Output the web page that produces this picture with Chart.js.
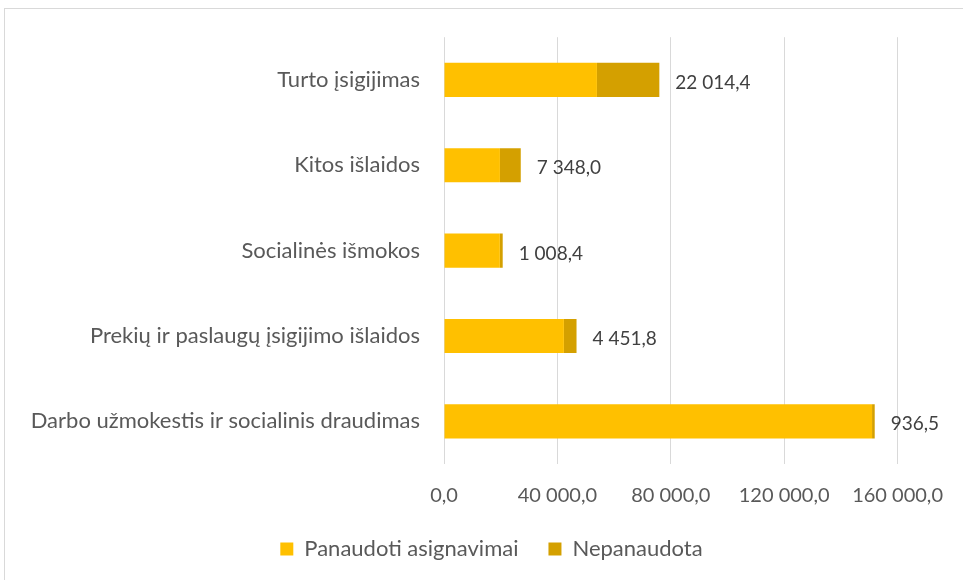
<!DOCTYPE html>
<html>
<head>
<meta charset="utf-8">
<script src="https://cdn.jsdelivr.net/npm/chart.js@4/dist/chart.umd.min.js"></script>
<style>
  html, body { margin: 0; padding: 0; background: #fff; }
  canvas { display: block; }
</style>
</head>
<body>
<canvas id="chart1" width="963" height="580"></canvas>
<script>
const categories = ["Turto įsigijimas", "Kitos išlaidos", "Socialinės išmokos", "Prekių ir paslaugų įsigijimo išlaidos", "Darbo užmokestis ir socialinis draudimas"];
const panaudoti = [53950, 19730, 19700, 42300, 151000];
const nepanaudota = [22014.4, 7348.0, 1008.4, 4451.8, 936.5];
const xTicks = [0, 40000, 80000, 120000, 160000];

const FONT = "Lato, 'Open Sans', sans-serif";

function LtNumber(v)
{
    const parts = v.toFixed(1).split(".");
    parts[0] = parts[0].replace(/\B(?=(\d{3})+(?!\d))/g, " ");
    return parts[0] + "," + parts[1];
}

// fonas ir remelis
const framePlugin = {
    id: "frame",
    beforeDraw(chart) {
        const ctx = chart.ctx;
        ctx.save();
        ctx.fillStyle = "#ffffff";
        ctx.fillRect(0, 0, chart.width, chart.height);
        ctx.strokeStyle = "#d9d9d9";
        ctx.lineWidth = 1;
        ctx.strokeRect(4.5, 8.5, 2000, 2000);
        ctx.restore();
    }
};

// nepanaudotos sumos prie stulpeliu
const valueLabels = {
    id: "valueLabels",
    afterDatasetsDraw(chart) {
        const ctx = chart.ctx;
        const meta = chart.getDatasetMeta(1);
        ctx.save();
        ctx.font = "19px " + FONT;
        ctx.fillStyle = "#404040";
        ctx.textAlign = "left";
        ctx.textBaseline = "middle";
        meta.data.forEach((bar, i) => {
            ctx.fillText(LtNumber(nepanaudota[i]), bar.x + 16, bar.y + 3);
        });
        ctx.restore();
    }
};

const ctx = document.getElementById("chart1").getContext("2d");

const chart = new Chart(ctx, {
    type: "bar",
    data: {
        labels: categories,
        datasets: [{
            label: "Panaudoti asignavimai",
            data: panaudoti,
            backgroundColor: "#ffc000",
            barPercentage: 0.4,
            categoryPercentage: 1
        }, {
            label: "Nepanaudota",
            data: nepanaudota,
            backgroundColor: "#d4a000",
            barPercentage: 0.4,
            categoryPercentage: 1
        }]
    },
    options: {
        indexAxis: "y",
        responsive: false,
        animation: false,
        layout: { padding: { top: 37, right: 0, bottom: 10, left: 20 } },
        scales: {
            x: {
                stacked: true,
                min: 0,
                max: 160000,
                afterBuildTicks: scale => { scale.ticks = xTicks.map(v => ({ value: v })); },
                afterFit: scale => { scale.height = 44; },
                grid: { color: "#d9d9d9", lineWidth: 1, drawTicks: false },
                border: { display: false },
                ticks: {
                    color: "#595959",
                    font: { family: FONT, size: 20 },
                    padding: 20,
                    maxRotation: 0,
                    callback: v => LtNumber(v)
                }
            },
            y: {
                stacked: true,
                afterFit: scale => { scale.width = 444 - 20; },
                grid: { display: false, drawTicks: false },
                border: { display: false },
                ticks: {
                    color: "#595959",
                    font: { family: FONT, size: 22 },
                    padding: 24
                }
            },
            // tuscia vieta desineje (uzrasams uz plotmes)
            yRight: {
                type: "linear",
                axis: "y",
                position: "right",
                afterFit: scale => { scale.width = 64; },
                grid: { display: false, drawTicks: false },
                border: { display: false },
                ticks: { display: false }
            }
        },
        plugins: {
            legend: {
                position: "bottom",
                labels: {
                    color: "#595959",
                    font: { family: FONT, size: 22 },
                    boxWidth: 13,
                    boxHeight: 13,
                    padding: 30
                }
            },
            tooltip: { enabled: false }
        }
    },
    plugins: [framePlugin, valueLabels]
});
</script>
</body>
</html>
